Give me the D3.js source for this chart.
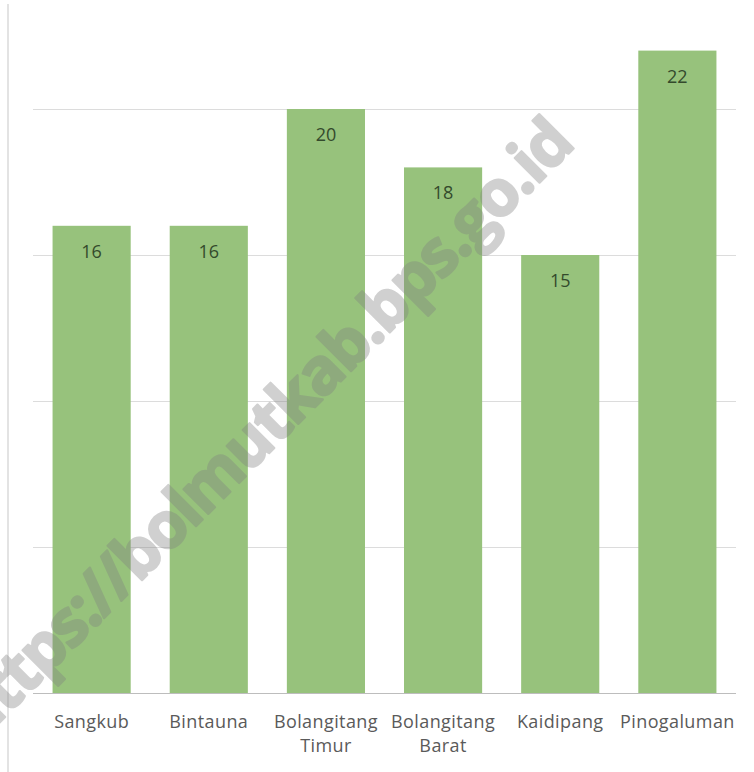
<!DOCTYPE html>
<html><head><meta charset="utf-8">
<script src="https://cdn.jsdelivr.net/npm/d3@7"></script>
<style>html,body{margin:0;padding:0;background:#fff;}svg{display:block;}</style>
</head><body>
<script>
const categories = [["Sangkub"],["Bintauna"],["Bolangitang","Timur"],["Bolangitang","Barat"],["Kaidipang"],["Pinogaluman"]];
const values = [16,16,20,18,15,22];
const yTicks = [0,5,10,15,20];
const watermark = "https://bolmutkab.bps.go.id";

const W=754,H=772;
const svg=d3.select("body").append("svg").attr("width",W).attr("height",H);
const x=d3.scaleBand().domain(d3.range(values.length)).range([33,736]).paddingInner(0.333).paddingOuter(0.167);
const y=d3.scaleLinear().domain([0,20]).range([693,109]);

// left border line
svg.append("line").attr("x1",8).attr("x2",8).attr("y1",4).attr("y2",H).attr("stroke","#e3e3e3").attr("stroke-width",2);

// gridlines
svg.append("g").selectAll("line").data(yTicks.filter(d=>d>0)).join("line")
  .attr("x1",33).attr("x2",736).attr("y1",d=>Math.round(y(d))+0.5).attr("y2",d=>Math.round(y(d))+0.5)
  .attr("stroke","#dcdcdc").attr("stroke-width",1.2);

// bars
svg.append("g").selectAll("rect").data(values).join("rect")
  .attr("x",(d,i)=>x(i)).attr("width",x.bandwidth())
  .attr("y",d=>y(d)).attr("height",d=>y(0)-y(d)).attr("fill","#97c27c");

// baseline
svg.append("line").attr("x1",33).attr("x2",736).attr("y1",693.5).attr("y2",693.5).attr("stroke","#bdbdbd").attr("stroke-width",1.2);

// value labels
svg.append("g").selectAll("text").data(values).join("text")
  .attr("x",(d,i)=>x(i)+x.bandwidth()/2).attr("y",d=>y(d)+32)
  .attr("text-anchor","middle").attr("font-family","Open Sans, sans-serif").attr("font-size",18)
  .attr("fill","#344a2c").text(d=>d);

// category labels
const cl=svg.append("g").selectAll("text").data(categories).join("text")
  .attr("x",(d,i)=>x(i)+x.bandwidth()/2).attr("y",728)
  .attr("text-anchor","middle").attr("font-family","Open Sans, sans-serif").attr("font-size",18)
  .attr("letter-spacing",0.4).attr("fill","#5a5a5a");
cl.each(function(d,i){
  const t=d3.select(this);
  d.forEach((s,j)=>t.append("tspan").attr("x",x(i)+x.bandwidth()/2).attr("dy",j?24:0).text(s));
});

// watermark: fit so that the 's' (index 4) and final 'd' land where the reference shows them
const fs0=60;
const wm=svg.append("text").attr("font-family","Open Sans, sans-serif").attr("font-weight","bold")
  .attr("font-size",fs0).attr("letter-spacing",-2)
  .attr("fill","#808080").attr("stroke","#808080").attr("stroke-width",2.2).attr("stroke-linejoin","round")
  .attr("opacity",0.36).text(watermark);
const node=wm.node();
const cx=i=>{const e=node.getExtentOfChar(i);return e.x+e.width/2;};
const c4=cx(4), c26=cx(watermark.length-1);
const pA=[68,627], pB=[543,145];
const dist=Math.hypot(pB[0]-pA[0],pB[1]-pA[1]);
const fs=fs0*dist/(c26-c4);
wm.attr("font-size",fs);
const c4s=cx(4);
const off=0.3*fs;
const bx=pA[0]-c4s*Math.SQRT1_2+off*Math.SQRT1_2;
const by=pA[1]+c4s*Math.SQRT1_2+off*Math.SQRT1_2;
wm.attr("transform",`translate(${bx},${by}) rotate(-45)`);
</script>
</body></html>
